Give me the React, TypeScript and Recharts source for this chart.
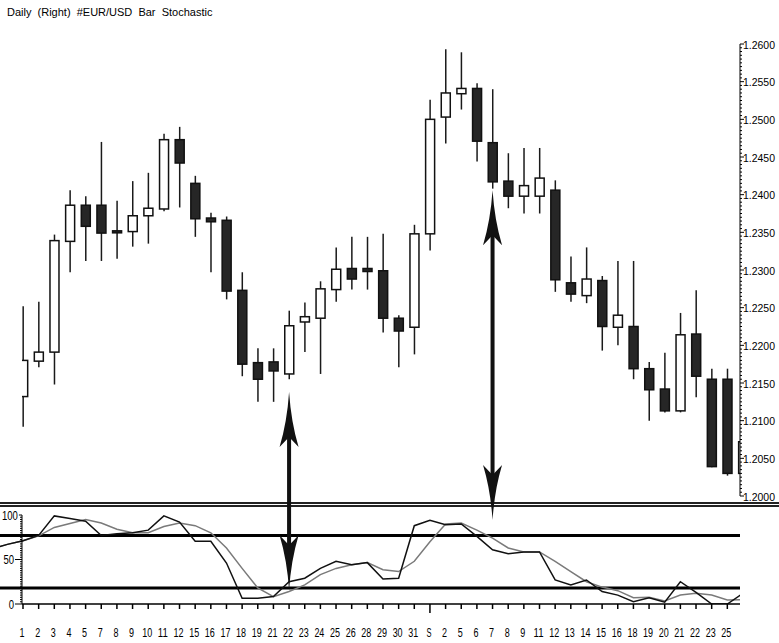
import React from "react";
import {
  Bar,
  ComposedChart,
  Line,
  LineChart,
  ReferenceLine,
  XAxis,
  YAxis,
} from "recharts";

const W = 779;
const H = 643;
const AXIS_FONT = "'Liberation Sans', Arial, sans-serif";

// day labels under the stochastic panel (last entry = partial bar at the right edge)
const dayLabels = [
  "1", "2", "3", "4", "5", "7", "8", "9", "10", "11", "12", "15", "16", "17", "18", "19",
  "21", "22", "23", "24", "25", "26", "28", "29", "30", "31", "S", "2", "5", "6", "7", "8",
  "9", "11", "12", "13", "14", "15", "16", "18", "19", "20", "21", "22", "23", "25", "",
];

const openPrices = [
  1.2132, 1.2179, 1.2191, 1.2338, 1.2386, 1.2386, 1.2352, 1.2351, 1.2372, 1.2381, 1.2473, 1.2415,
  1.2369, 1.2366, 1.2273, 1.2177, 1.2178, 1.2162, 1.2231, 1.2236, 1.2274, 1.2302, 1.2302, 1.2299,
  1.2236, 1.2224, 1.2348, 1.2503, 1.2534, 1.2541, 1.2469, 1.2418, 1.2398, 1.2398, 1.2406, 1.2283,
  1.2266, 1.2286, 1.2224, 1.2225, 1.2169, 1.2142, 1.2113, 1.2215, 1.2155, 1.2155, 1.2030,
];
const highPrices = [
  1.2252, 1.2258, 1.2347, 1.2406, 1.2398, 1.2470, 1.2392, 1.2418, 1.2429, 1.2481, 1.2490, 1.2425,
  1.2376, 1.2371, 1.2297, 1.2196, 1.2196, 1.2246, 1.2257, 1.2285, 1.2330, 1.2344, 1.2344, 1.2348,
  1.2240, 1.2360, 1.2526, 1.2593, 1.2589, 1.2548, 1.2540, 1.2455, 1.2462, 1.2462, 1.2419, 1.2318,
  1.2330, 1.2292, 1.2312, 1.2312, 1.2178, 1.2190, 1.2243, 1.2273, 1.2169, 1.2169, 1.2080,
];
const lowPrices = [
  1.2092, 1.2171, 1.2148, 1.2297, 1.2312, 1.2312, 1.2315, 1.2331, 1.2335, 1.2378, 1.2383, 1.2344,
  1.2297, 1.2261, 1.2159, 1.2125, 1.2125, 1.2155, 1.2191, 1.2162, 1.2258, 1.2274, 1.2274, 1.2217,
  1.2171, 1.2188, 1.2326, 1.2468, 1.2513, 1.2444, 1.2408, 1.2382, 1.2375, 1.2375, 1.2271, 1.2258,
  1.2256, 1.2193, 1.2200, 1.2155, 1.2100, 1.2111, 1.2111, 1.2131, 1.2038, 1.2027, 1.2025,
];
const closePrices = [
  1.2180, 1.2191, 1.2339, 1.2386, 1.2358, 1.2349, 1.2350, 1.2372, 1.2382, 1.2473, 1.2442, 1.2368,
  1.2364, 1.2272, 1.2175, 1.2155, 1.2166, 1.2226, 1.2238, 1.2275, 1.2301, 1.2288, 1.2298, 1.2236,
  1.2219, 1.2348, 1.2500, 1.2535, 1.2541, 1.2471, 1.2417, 1.2398, 1.2412, 1.2422, 1.2287, 1.2268,
  1.2288, 1.2225, 1.2240, 1.2169, 1.2141, 1.2113, 1.2214, 1.2159, 1.2039, 1.2030, 1.2072,
];

// stochastic, starting two sessions before the first visible bar
const stochDays = [
  -2, -1, 0, 1, 2, 3, 4, 5, 6, 7, 8, 9, 10, 11, 12, 13, 14, 15, 16, 17, 18, 19, 20, 21, 22, 23,
  24, 25, 26, 27, 28, 29, 30, 31, 32, 33, 34, 35, 36, 37, 38, 39, 40, 41, 42, 43, 44, 45, 46,
];
const percentK = [
  62, 67, 71, 77, 99, 96, 93, 77, 79, 80, 83, 99, 92, 70.5, 70.5, 46, 6.5, 6.5, 8.5, 25, 29, 40,
  48, 44, 46.5, 28, 29, 88, 94, 89, 90, 76, 61, 56.5, 58.5, 58.5, 27, 21.5, 27, 14, 10, 2.6, 7, 2,
  25, 13, 0, 0, 12,
];
const percentD = [
  62, 67, 71, 76.5, 86, 90.5, 95, 91, 84, 80, 80, 87, 91, 88, 80, 63, 40, 18, 8.2, 14, 21.5, 33,
  40, 44, 46.5, 38.5, 36.5, 48, 70, 90, 91, 83, 74, 63, 58.5, 58.5, 48, 36.5, 25, 19, 15, 7, 7.5,
  3.5, 10, 12, 10, 4.5, 5,
];
const upperLevel = 77;
const lowerLevel = 18;

// divergence arrows: bar index, tip at price level, tail tip (drawn down into the oscillator)
const arrowDays = [17, 30];
const arrowTopPrices = [1.2138, 1.2406];
const arrowBottomPrices = [1.1875, 1.1968];

const priceTicks = Array.from({ length: 121 }, (_, k) => Number((1.2 + k * 0.0005).toFixed(4)));
const stochTicks = Array.from({ length: 41 }, (_, k) => k * 2.5);
const dayTicks = dayLabels.slice(0, 46).map((_, i) => i);

const candles = dayLabels.map((label, i) => ({
  day: i,
  label,
  open: openPrices[i],
  high: highPrices[i],
  low: lowPrices[i],
  close: closePrices[i],
  range: [lowPrices[i], highPrices[i]],
}));

const stochRows = stochDays.map((day, i) => ({ day, k: percentK[i], d: percentD[i] }));

const barDomain = [-0.064, 45.81];
const lineDomain = [-1.47, 45.81];

function Candle(props: any) {
  const { x, y, width, height, payload } = props;
  const { open, high, low, close } = payload;
  const top = Math.min(y, y + height);
  const span = Math.abs(height);
  const toY = (v: number) => top + ((high - v) / (high - low)) * span;
  const cx = x + width / 2;
  const bodyTop = toY(Math.max(open, close));
  const bodyBottom = toY(Math.min(open, close));
  const up = close >= open;
  return (
    <g>
      <line x1={cx} x2={cx} y1={top} y2={top + span} stroke="#1a1a1a" strokeWidth={1.5} />
      <rect
        x={x + 0.5}
        y={bodyTop}
        width={width - 1}
        height={Math.max(bodyBottom - bodyTop, 2)}
        fill={up ? "#fff" : "#262626"}
        stroke="#111"
        strokeWidth={1.5}
      />
    </g>
  );
}

function DoubleArrow(props: any) {
  const { x1, y1, y2 } = props;
  const x = x1;
  const top = Math.min(y1, y2);
  const bottom = Math.max(y1, y2);
  const len = 55;
  const half = 9.5;
  const notch = 45;
  return (
    <g fill="#111">
      <rect x={x - 2} y={top + notch - 2} width={4} height={bottom - top - 2 * notch + 4} />
      <path
        d={`M${x},${top} Q${x + 2},${top + 30} ${x + half},${top + len} L${x},${top + notch} L${x - half},${top + len} Q${x - 2},${top + 30} ${x},${top} Z`}
      />
      <path
        d={`M${x},${bottom} Q${x + 2},${bottom - 30} ${x + half},${bottom - len} L${x},${bottom - notch} L${x - half},${bottom - len} Q${x - 2},${bottom - 30} ${x},${bottom} Z`}
      />
    </g>
  );
}

function PriceTick(props: any) {
  const { x, y, payload } = props;
  const v = payload.value;
  const major = Math.round(v * 10000) % 50 === 0;
  return (
    <g>
      <line x1={x} x2={x + (major ? 4 : 2)} y1={y} y2={y} stroke="#000" strokeWidth={1} />
      {major && (
        <text
          x={x + 3}
          y={y + 4.5}
          fontFamily={AXIS_FONT}
          fontSize={11.8}
          textLength={32}
          lengthAdjust="spacingAndGlyphs"
          fill="#000"
        >
          {v.toFixed(4)}
        </text>
      )}
    </g>
  );
}

function StochTick(props: any) {
  const { x, y, payload } = props;
  const v = payload.value;
  const major = v % 50 === 0;
  const text = String(v);
  const w = text.length * 5.3;
  const right = Math.max(x - 8, 2 + w);
  return (
    <g>
      <line x1={major ? right + 1 : x - 2} x2={x} y1={y} y2={y} stroke="#000" strokeWidth={1} />
      {major && (
        <text
          x={right - w}
          y={y + 4.5}
          fontFamily={AXIS_FONT}
          fontSize={12.5}
          textLength={w}
          lengthAdjust="spacingAndGlyphs"
          fill="#000"
        >
          {text}
        </text>
      )}
    </g>
  );
}

function DayTick(props: any) {
  const { x, y, payload } = props;
  const label = dayLabels[payload.value] ?? "";
  const long = label === "S";
  const w = label.length * 5;
  return (
    <g>
      <line x1={x} x2={x} y1={y} y2={y + (long ? 9 : 5)} stroke="#000" strokeWidth={1.5} />
      {label && (
        <text
          x={x - 1 - w / 2}
          y={y + 33}
          fontFamily={AXIS_FONT}
          fontSize={12}
          textLength={w}
          lengthAdjust="spacingAndGlyphs"
          fill="#000"
        >
          {label}
        </text>
      )}
    </g>
  );
}

const layer: React.CSSProperties = { position: "absolute", left: 0, top: 0 };

export default function App() {
  return (
    <div style={{ position: "absolute", left: 0, top: 0, width: W, height: H, background: "#fff", overflow: "hidden" }}>
      <div
        style={{
          position: "absolute",
          left: 7,
          top: 6,
          fontFamily: "'Liberation Sans', Arial, sans-serif",
          fontSize: 11,
          lineHeight: "13px",
          whiteSpace: "pre",
          color: "#000",
        }}
      >
        {"Daily  (Right)  #EUR/USD  Bar  Stochastic"}
      </div>

      <div style={{ position: "absolute", left: 0, top: 502, width: W, borderTop: "5px double #222" }} />

      {/* oscillator lines and levels */}
      <div style={layer}>
        <LineChart width={W} height={H} data={stochRows} margin={{ top: 515, right: 39, bottom: 39, left: 0 }}>
          <XAxis type="number" dataKey="day" domain={lineDomain} allowDataOverflow hide />
          <YAxis type="number" domain={[0, 100]} allowDataOverflow hide />
          <ReferenceLine y={upperLevel} stroke="#000" strokeWidth={3} />
          <ReferenceLine y={lowerLevel} stroke="#000" strokeWidth={3} />
          <Line dataKey="d" stroke="#7a7a7a" strokeWidth={1.5} dot={false} isAnimationActive={false} />
          <Line dataKey="k" stroke="#111" strokeWidth={1.5} dot={false} isAnimationActive={false} />
        </LineChart>
      </div>

      {/* oscillator axes */}
      <div style={layer}>
        <ComposedChart width={W} height={H} data={stochRows} margin={{ top: 515, right: 39, bottom: 0, left: 0 }}>
          <XAxis
            type="number"
            dataKey="day"
            domain={barDomain}
            allowDataOverflow
            ticks={dayTicks}
            interval={0}
            height={39}
            tickSize={0}
            tickMargin={0}
            tickLine={false}
            axisLine={{ stroke: "#000", strokeWidth: 1.5 }}
            tick={<DayTick />}
          />
          <YAxis
            type="number"
            domain={[0, 100]}
            allowDataOverflow
            ticks={stochTicks}
            interval={0}
            width={22}
            tickSize={0}
            tickMargin={0}
            tickLine={false}
            axisLine={{ stroke: "#000", strokeWidth: 1 }}
            tick={<StochTick />}
          />
          <Line dataKey="k" stroke="none" dot={false} isAnimationActive={false} />
        </ComposedChart>
      </div>

      {/* price bars */}
      <div style={layer}>
        <ComposedChart width={W} height={H} data={candles} margin={{ top: 44, right: 0, bottom: 147, left: 22 }}>
          <XAxis type="number" dataKey="day" domain={barDomain} allowDataOverflow hide />
          <YAxis
            orientation="right"
            type="number"
            domain={[1.2, 1.26]}
            allowDataOverflow
            ticks={priceTicks}
            interval={0}
            width={39}
            tickSize={0}
            tickMargin={0}
            tickLine={false}
            axisLine={{ stroke: "#000", strokeWidth: 1 }}
            tick={<PriceTick />}
          />
          <Bar dataKey="range" barSize={10} shape={<Candle />} isAnimationActive={false} />
          {arrowDays.map((d, i) => (
            <ReferenceLine
              key={`arrow-${d}`}
              segment={[
                { x: d, y: arrowTopPrices[i] },
                { x: d, y: arrowBottomPrices[i] },
              ]}
              ifOverflow="visible"
              shape={<DoubleArrow />}
            />
          ))}
        </ComposedChart>
      </div>
    </div>
  );
}
